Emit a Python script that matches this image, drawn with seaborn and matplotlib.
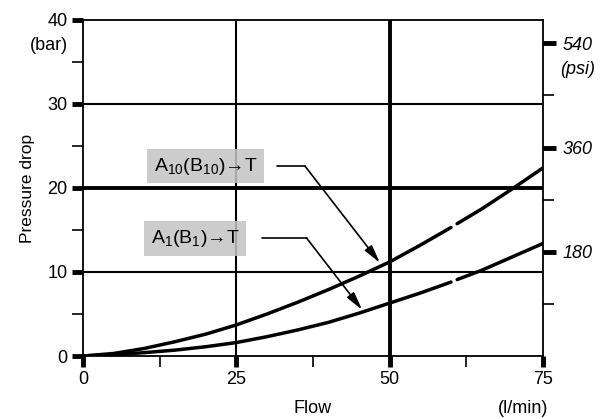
import matplotlib
matplotlib.use("Agg")
import matplotlib.pyplot as plt
import seaborn as sns
import pandas as pd
from matplotlib.ticker import FixedLocator

sns.set_theme(style="white")
plt.rcParams['font.family'] = ['Liberation Sans', 'DejaVu Sans']
plt.rcParams['mathtext.fontset'] = 'custom'
plt.rcParams['mathtext.rm'] = 'Liberation Sans'
plt.rcParams['text.color'] = 'black'
plt.rcParams['axes.labelcolor'] = 'black'
plt.rcParams['xtick.color'] = 'black'
plt.rcParams['ytick.color'] = 'black'

# ---- data ----
flow_seg1 = [0, 5, 10, 15, 20, 25, 30, 35, 40, 45, 50, 55, 60]
flow_seg2 = [61, 65, 70, 75]
a10_seg1 = [0, 0.3, 0.9, 1.7, 2.6, 3.7, 5.0, 6.4, 7.9, 9.5, 11.2, 13.2, 15.3]
a10_seg2 = [15.75, 17.5, 19.9, 22.4]
a1_seg1 = [0, 0.15, 0.4, 0.7, 1.1, 1.6, 2.3, 3.1, 4.0, 5.1, 6.3, 7.5, 8.8]
a1_seg2 = [9.1, 10.2, 11.8, 13.4]

x_ticks = [0, 25, 50, 75]
y_ticks = [0, 10, 20, 30, 40]
psi_ticks = [180, 360, 540]
psi_minor = [90, 270, 450]
label_a10 = r"$\mathrm{A_{10}(B_{10})}$→T"
label_a1 = r"$\mathrm{A_{1}(B_{1})}$→T"
BAR_TO_PSI = 14.5038

rows = []
for name, segs in (("A10", ((flow_seg1, a10_seg1), (flow_seg2, a10_seg2))),
                   ("A1", ((flow_seg1, a1_seg1), (flow_seg2, a1_seg2)))):
    for i, (fx, fy) in enumerate(segs):
        for x, y in zip(fx, fy):
            rows.append({"curve": name, "seg": f"{name}_{i}", "flow": x, "dp": y})
df = pd.DataFrame(rows)

fig = plt.figure(figsize=(6.14, 4.19), dpi=100)
ax = fig.add_axes([83/614, 1-356/419, 460/614, 336/419])

# grid lines
for yv, lw in ((10, 1.5), (20, 2.8), (30, 1.5)):
    ax.axhline(yv, color="black", lw=lw, zorder=1)
for xv, lw in ((25, 1.5), (50, 2.8)):
    ax.axvline(xv, color="black", lw=lw, zorder=1)

sns.lineplot(data=df, x="flow", y="dp", units="seg", estimator=None,
             hue="curve", palette={"A10": "black", "A1": "black"},
             lw=2.5, legend=False, ax=ax, zorder=3)

ax.set_xlim(0, 75)
ax.set_ylim(0, 40)
ax.set_xticks(x_ticks)
ax.set_yticks(y_ticks)
ax.xaxis.set_minor_locator(FixedLocator([12.5, 37.5, 62.5]))
ax.yaxis.set_minor_locator(FixedLocator([5, 15, 25, 35]))
ax.tick_params(axis="both", which="major", direction="out", length=8, width=3.5,
               color="black", labelcolor="black", labelsize=13, pad=3, left=True, bottom=True)
ax.tick_params(axis="both", which="minor", direction="out", length=8, width=1.2,
               color="black", left=True, bottom=True)
for s in ax.spines.values():
    s.set_color("black")
    s.set_linewidth(1.3)
    s.set_visible(True)
ax.set_xlabel("Flow", fontsize=13)
ax.set_ylabel("Pressure drop", fontsize=12.5)
ax.xaxis.set_label_coords(0.5, -0.13)
ax.yaxis.set_label_coords(-0.105, 0.5)

# right psi axis
ax2 = ax.twinx()
ax2.set_ylim(0, 40 * BAR_TO_PSI)
ax2.set_yticks(psi_ticks)
ax2.set_yticklabels([str(v) for v in psi_ticks], fontstyle="italic")
ax2.yaxis.set_minor_locator(FixedLocator(psi_minor))
ax2.tick_params(axis="y", which="major", direction="out", length=9, width=3.5,
                color="black", labelcolor="black", labelsize=13, pad=5, right=True)
ax2.tick_params(axis="y", which="minor", direction="out", length=8, width=1.2,
                color="black", right=True)
ax2.grid(False)
for s in ax2.spines.values():
    s.set_visible(False)

# unit labels
fig.text(49/614, 1-45/419, "(bar)", fontsize=13, ha="center", va="center")
fig.text(578/614, 1-70/419, "(psi)", fontsize=13, ha="center", va="center", fontstyle="italic")
fig.text(548/614, 1-408/419, "(l/min)", fontsize=13, ha="right", va="center")

# annotations
box = dict(boxstyle="square,pad=0.35", fc="#c4c4c4", ec="none", alpha=0.85)
ax.text(20.0, 22.6, label_a10, fontsize=14, ha="center", va="center", bbox=box, zorder=4)
ax.text(18.3, 14.0, label_a1, fontsize=14, ha="center", va="center", bbox=box, zorder=4)
ax.plot([31.6, 36.2], [22.6, 22.6], color="black", lw=1.2, zorder=4)
ax.annotate("", xy=(48.4, 11.1), xytext=(36.2, 22.6),
            arrowprops=dict(arrowstyle="-|>,head_length=0.9,head_width=0.22", color="black", lw=1.2,
                            shrinkA=0, shrinkB=0), zorder=4)
ax.plot([29.2, 36.5], [14.0, 14.0], color="black", lw=1.2, zorder=4)
ax.annotate("", xy=(45.5, 5.5), xytext=(36.5, 14.0),
            arrowprops=dict(arrowstyle="-|>,head_length=0.9,head_width=0.22", color="black", lw=1.2,
                            shrinkA=0, shrinkB=0), zorder=4)

fig.savefig("out.png", dpi=100, facecolor="white")
